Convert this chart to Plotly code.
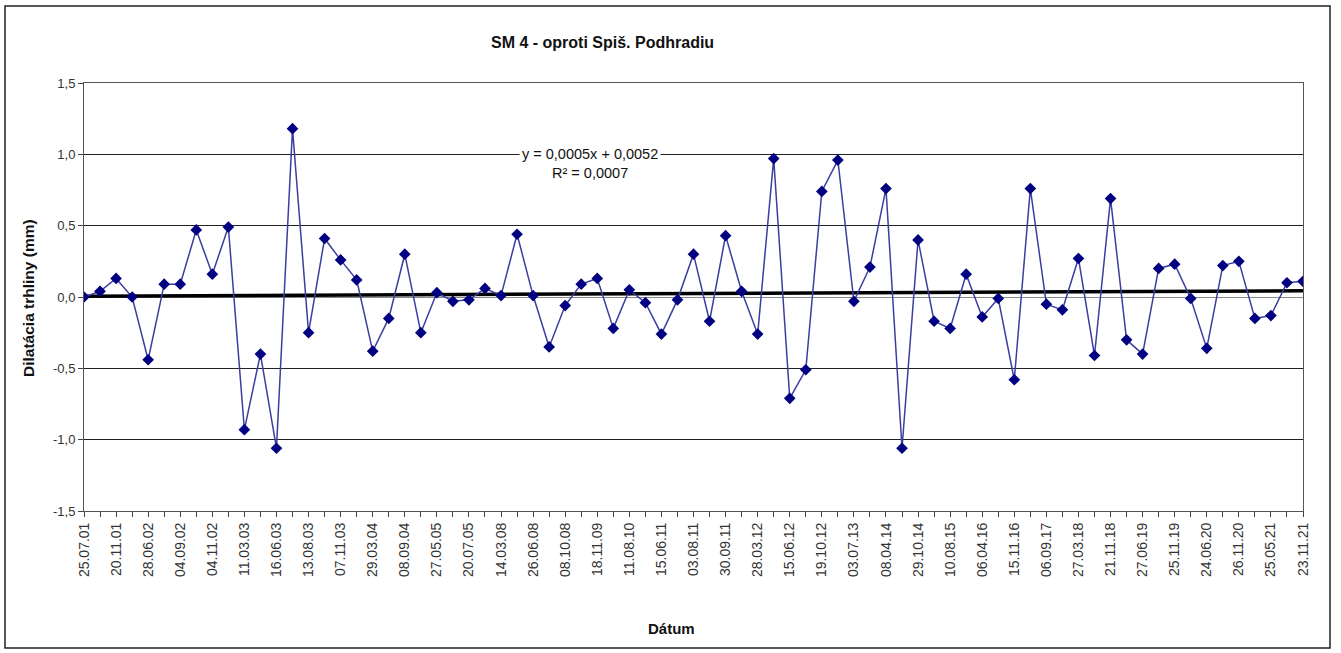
import plotly.graph_objects as go

# visible tick labels (every other measurement date)
tick_labels = ["25.07.01", "20.11.01", "28.06.02", "04.09.02", "04.11.02", "11.03.03",
               "16.06.03", "13.08.03", "07.11.03", "29.03.04", "08.09.04", "27.05.05",
               "20.07.05", "14.03.08", "26.06.08", "08.10.08", "18.11.09", "11.08.10",
               "15.06.11", "03.08.11", "30.09.11", "28.03.12", "15.06.12", "19.10.12",
               "03.07.13", "08.04.14", "29.10.14", "10.08.15", "06.04.16", "15.11.16",
               "06.09.17", "27.03.18", "21.11.18", "27.06.19", "25.11.19", "24.06.20",
               "26.11.20", "25.05.21", "23.11.21"]

# dilatation values (mm), one per measurement
values = [0.00, 0.04, 0.13, 0.00, -0.44, 0.09, 0.09, 0.47, 0.16, 0.49,
          -0.93, -0.40, -1.06, 1.18, -0.25, 0.41, 0.26, 0.12, -0.38, -0.15,
          0.30, -0.25, 0.03, -0.03, -0.02, 0.06, 0.01, 0.44, 0.01, -0.35,
          -0.06, 0.09, 0.13, -0.22, 0.05, -0.04, -0.26, -0.02, 0.30, -0.17,
          0.43, 0.04, -0.26, 0.97, -0.71, -0.51, 0.74, 0.96, -0.03, 0.21,
          0.76, -1.06, 0.40, -0.17, -0.22, 0.16, -0.14, -0.01, -0.58, 0.76,
          -0.05, -0.09, 0.27, -0.41, 0.69, -0.30, -0.40, 0.20, 0.23, -0.01,
          -0.36, 0.22, 0.25, -0.15, -0.13, 0.10, 0.11]

# y axis ticks
y_tick_values = [-1.5, -1.0, -0.5, 0.0, 0.5, 1.0, 1.5]
y_tick_labels = ["-1,5", "-1,0", "-0,5", "0,0", "0,5", "1,0", "1,5"]

# linear trend shown on the chart
trend_slope = 0.0005
trend_intercept = 0.0052
trend_text = "y = 0,0005x + 0,0052<br>R² = 0,0007"

n = len(values)
xs = list(range(1, n + 1))
all_ticktext = []
for i in range(n):
    all_ticktext.append(tick_labels[i // 2] if i % 2 == 0 else "")

trend_y = [trend_slope * x + trend_intercept for x in xs]

FONT = "Liberation Sans, Arial, sans-serif"

fig = go.Figure()
fig.add_trace(go.Scatter(
    x=xs, y=trend_y, mode="lines",
    line=dict(color="black", width=3.5), hoverinfo="skip", showlegend=False))
fig.add_trace(go.Scatter(
    x=xs, y=values, mode="lines+markers",
    line=dict(color="#3a3ea0", width=1.5),
    marker=dict(symbol="diamond", size=9, color="#000080"),
    showlegend=False))

PW, PH = 1219, 428  # plot area size in px
def px(x):
    return (x - 84) / PW
def py(y):
    return (511 - y) / PH

fig.update_layout(
    width=1341, height=653,
    margin=dict(l=84, r=38, t=83, b=142),
    paper_bgcolor="white", plot_bgcolor="white",
    font=dict(family=FONT, color="#222"),
    xaxis=dict(
        range=[1, n], tickmode="array", tickvals=xs, ticktext=all_ticktext,
        tickangle=-90, ticks="outside", ticklen=5, tickcolor="#444",
        tickfont=dict(family=FONT, size=14, color="#333"),
        showgrid=False, zeroline=False,
        showline=True, linecolor="#555", linewidth=1, mirror=True,
    ),
    yaxis=dict(
        range=[-1.5, 1.5], tickmode="array", tickvals=y_tick_values, ticktext=y_tick_labels,
        ticks="outside", ticklen=5, tickcolor="#444",
        tickfont=dict(family=FONT, size=13, color="#333"),
        showgrid=True, gridcolor="#222", gridwidth=1,
        zeroline=True, zerolinecolor="#888", zerolinewidth=1,
        showline=True, linecolor="#555", linewidth=1, mirror=True,
    ),
    annotations=[
        dict(text="<b>SM 4 - oproti Spiš. Podhradiu</b>", xref="paper", yref="paper",
             x=px(602), y=py(43), xanchor="center", yanchor="middle",
             showarrow=False, font=dict(family=FONT, size=16, color="#111")),
        dict(text="<b>Dátum</b>", xref="paper", yref="paper",
             x=px(671), y=py(628), xanchor="center", yanchor="middle",
             showarrow=False, font=dict(family=FONT, size=15, color="#111")),
        dict(text="<b>Dilatácia trhliny (mm)</b>", xref="paper", yref="paper",
             x=px(28), y=py(298), xanchor="center", yanchor="middle", textangle=-90,
             showarrow=False, font=dict(family=FONT, size=15.5, color="#111")),
        dict(text=trend_text, xref="paper", yref="paper",
             x=px(590), y=py(163), xanchor="center", yanchor="middle",
             showarrow=False, bgcolor="white", borderpad=2,
             font=dict(family=FONT, size=14.5, color="#111")),
    ],
    shapes=[
        dict(type="rect", xref="paper", yref="paper",
             x0=px(5), x1=px(1330), y0=py(648), y1=py(6),
             line=dict(color="#222", width=1.5), fillcolor="rgba(0,0,0,0)", layer="below"),
    ],
)

fig.write_html("out.html", config={"displayModeBar": False},
               post_script="document.body.style.margin='0';document.body.style.overflow='hidden';")
